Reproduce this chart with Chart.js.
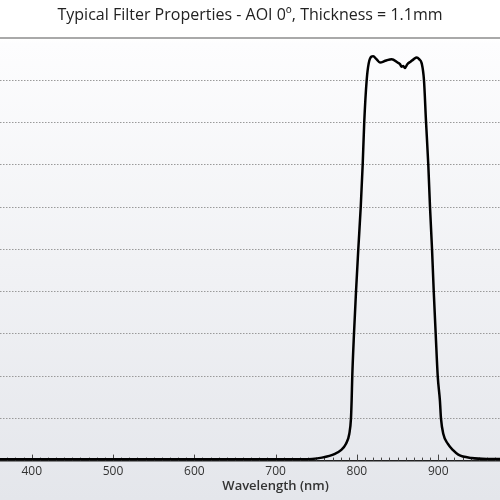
<!DOCTYPE html>
<html>
<head>
<meta charset="utf-8">
<title>Typical Filter Properties</title>
<script src="https://cdn.jsdelivr.net/npm/chart.js@4"></script>
<style>
  html, body { margin: 0; padding: 0; }
  body {
    width: 500px; height: 500px; overflow: hidden;
    background: linear-gradient(to bottom, #ffffff 0px, #ffffff 38px, #fdfdfe 44px, #e4e6eb 500px);
  }
  #wrap { position: relative; width: 500px; height: 500px; }
</style>
</head>
<body>
<div id="wrap"><canvas id="filter"></canvas></div>
<script>
// wavelength (nm) and transmission (%)
const wavelengths = [
  361, 450, 550, 650, 720, 745, 757, 773, 780, 786.6, 790.6, 792.7, 793.5, 794.3,
  796.4, 798.9, 801.7, 804.7, 807.1, 809, 812, 814.5, 818, 820, 824, 828.4, 835,
  842.8, 850, 853, 855, 857, 859, 862, 866, 870, 873.6, 876.5, 879.7, 882.5, 885,
  887.8, 889.9, 892.4, 894.5, 896.9, 899.4, 902.1, 903.4, 906.3, 911.7, 918.6,
  924.7, 941, 960, 976
];
const transmission = [
  0.3, 0.3, 0.3, 0.3, 0.3, 0.4, 0.7, 1.6, 2.4, 4, 6.3, 10, 14.2, 20,
  30, 40, 50, 60, 70, 80, 90, 94, 95.6, 95.7, 95, 94.2, 94.6,
  95, 94.2, 93.8, 93.2, 93.4, 92.9, 93.8, 94.4, 95, 95.4, 95, 94, 90, 80.2,
  70, 60, 50, 40, 30, 20, 14.2, 10, 6.3, 4, 2.4,
  1.4, 0.6, 0.4, 0.4
];
const xRange = [361, 976];
const titleText = 'Typical Filter Properties - AOI 0º, Thickness = 1.1mm';
const xTitle = 'Wavelength (nm)';
const xTitleAt = 700; // axis title is centred on 700 nm in the original

// short tick marks pointing up into the plot, solid top rule, axis title
const axisDecor = {
  id: 'axisDecor',
  beforeDatasetsDraw(chart) {
    const { ctx, chartArea, scales } = chart;
    const x = scales.x;
    ctx.save();
    ctx.strokeStyle = '#8c8c8c';
    ctx.lineWidth = 1.5;
    ctx.beginPath();
    ctx.moveTo(chartArea.left, chartArea.top);
    ctx.lineTo(chartArea.right, chartArea.top);
    ctx.stroke();

    ctx.strokeStyle = '#444';
    ctx.lineWidth = 1;
    x.ticks.forEach(t => {
      if (t.value % 10 !== 0) return;
      const px = Math.round(x.getPixelForValue(t.value)) + 0.5;
      const len = t.value % 100 === 0 ? 6 : 3;
      ctx.beginPath();
      ctx.moveTo(px, chartArea.bottom);
      ctx.lineTo(px, chartArea.bottom - len);
      ctx.stroke();
    });

    ctx.fillStyle = '#333';
    ctx.font = '600 13px "Open Sans"';
    ctx.textAlign = 'center';
    ctx.textBaseline = 'middle';
    ctx.fillText(xTitle, x.getPixelForValue(xTitleAt), chartArea.bottom + 26);
    ctx.restore();
  }
};

new Chart(document.getElementById('filter'), {
  type: 'line',
  data: {
    datasets: [{
      data: wavelengths.map((w, i) => ({ x: w, y: transmission[i] })),
      borderColor: '#000',
      borderWidth: 2.5,
      pointRadius: 0,
      cubicInterpolationMode: 'monotone',
      fill: false
    }]
  },
  options: {
    responsive: true,
    maintainAspectRatio: false,
    animation: false,
    layout: { padding: { bottom: 17 } },
    plugins: {
      legend: { display: false },
      tooltip: { enabled: false },
      title: {
        display: true,
        text: titleText,
        color: '#222',
        font: { family: 'Open Sans', size: 16, weight: 'normal' },
        padding: { top: 6, bottom: 12.8 }
      }
    },
    scales: {
      x: {
        type: 'linear',
        min: xRange[0],
        max: xRange[1],
        grid: { drawOnChartArea: false, drawTicks: false },
        border: { display: true, color: '#222', width: 1.5 },
        ticks: {
          stepSize: 10,
          includeBounds: false,
          autoSkip: false,
          maxRotation: 0,
          padding: 4,
          color: '#333',
          font: { family: 'Open Sans', size: 12 },
          callback: v => (v % 100 === 0 ? v : '')
        }
      },
      y: {
        min: 0,
        max: 100,
        afterFit(scale) { scale.width = 0; },
        ticks: { display: false, stepSize: 10 },
        grid: {
          drawTicks: false,
          lineWidth: 1,
          color: c => (c.tick.value === 0 || c.tick.value === 100 ? 'rgba(0,0,0,0)' : '#9a9a9a')
        },
        border: { display: false, dash: [1.5, 1.5] }
      }
    }
  },
  plugins: [axisDecor]
});
</script>
</body>
</html>
